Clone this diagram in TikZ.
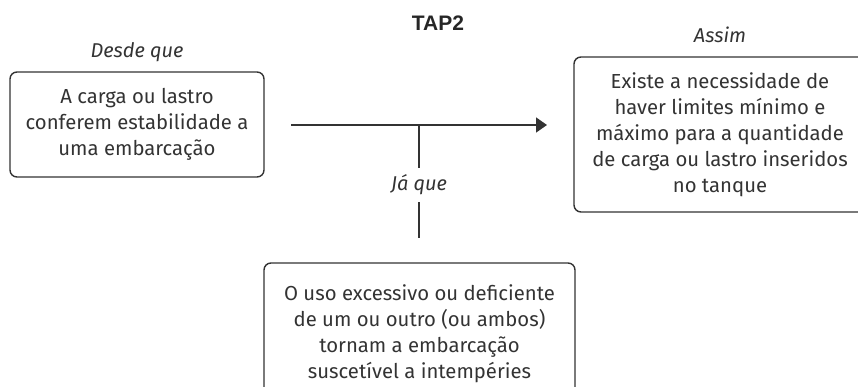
\documentclass[tikz,border=0pt]{standalone}
\usepackage{fontspec}
\setmainfont{Fira Sans}
\newfontfamily\titulofonte{Liberation Sans}
\usetikzlibrary{arrows.meta}
\definecolor{tinta}{HTML}{333333}

\begin{document}
\begin{tikzpicture}[x=1pt,y=1pt,
    caixa/.style={draw=tinta,line width=1.4pt,rounded corners=7pt,align=center,
      text=tinta,font=\fontsize{20.3}{26}\selectfont,inner sep=0pt},
    rotulo/.style={text=tinta,font=\fontsize{20}{22}\selectfont\itshape},
    linha/.style={draw=tinta,line width=1.4pt}]
  \useasboundingbox (0,0) rectangle (858,-387);

  \node[text=black!85,font=\fontsize{21}{24}\selectfont\titulofonte\bfseries] (titulo) at (438,-23) {TAP2};

  % caixas
  \node[caixa,minimum width=254pt,minimum height=105pt] (causa) at (137,-124.5)
    {A carga ou lastro\\conferem estabilidade a\\uma embarcação};
  \node[caixa,minimum width=292pt,minimum height=155pt] (efeito) at (720,-134.5)
    {Existe a necessidade de\\haver limites mínimo e\\máximo para a quantidade\\de carga ou lastro inseridos\\no tanque};
  \node[caixa,minimum width=311pt,minimum height=142pt] (razao) at (419.5,-334)
    {O uso excessivo ou deficiente\\de um ou outro (ou ambos)\\tornam a embarcação\\suscetível a intempéries};

  \node[rotulo] (desde) at (137,-52) {Desde que};
  \node[rotulo] (assim) at (720,-35) {Assim};
  \node[rotulo,inner sep=7pt] (jaque) at (419,-185) {Já que};

  % conectores
  \coordinate (ini) at (291,-125);
  \coordinate (fim) at (547,-125);
  \coordinate (junta) at (419,-125);
  \coordinate (pe) at (419,-238);
  \draw[linha,-{Triangle[length=11pt,width=15pt]}] (ini) -- (fim);
  \draw[linha] (junta) -- (jaque.north);
  \draw[linha] (jaque.south) -- (pe);
\end{tikzpicture}
\end{document}
